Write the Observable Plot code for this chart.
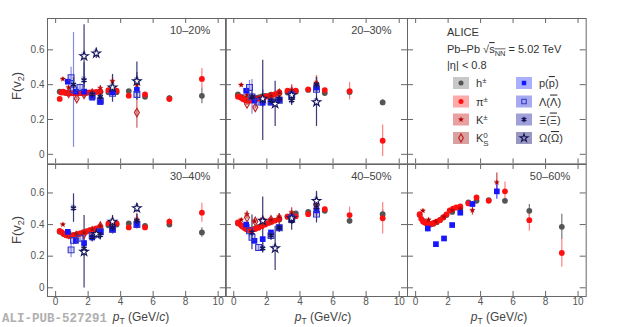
<!DOCTYPE html>
<html><head><meta charset="utf-8">
<script src="https://cdn.jsdelivr.net/npm/d3@7"></script>
<script src="https://cdn.jsdelivr.net/npm/@observablehq/plot@0.6"></script>
<style>
body{margin:0;background:#fff;font-family:"Liberation Sans",Arial,sans-serif;}
#chart{position:relative;width:620px;height:327px;overflow:hidden;background:#fff;}
#chart svg{position:absolute;overflow:visible;}
</style></head><body><div id="chart"></div>
<script>
// ---------------- data ----------------
const centralities = ["10–20%","20–30%","30–40%","40–50%","50–60%"];
const xTicks = [0,2,4,6,8,10];
const xTickLabels = ["0","2","4","6","8","10"];
const yTicks = [0,0.2,0.4,0.6];
const yTickLabels = ["0","0.2","0.4","0.6"];

// h± (charged hadrons)
const pt_h = [0.25,0.5,0.7,0.9,1.1,1.3,1.5,1.7,1.9,2.25,2.75,3.25,3.75,4.5,5.5,7,9];
const v_h = [
 [0.360,0.355,0.352,0.351,0.351,0.352,0.353,0.354,0.355,0.355,0.356,0.356,0.357,0.363,0.330,0.322,0.336],
 [0.344,0.330,0.320,0.316,0.318,0.322,0.327,0.332,0.336,0.342,0.350,0.355,0.360,0.370,0.352,0.358,0.298],
 [0.354,0.340,0.333,0.331,0.333,0.338,0.344,0.350,0.356,0.365,0.378,0.395,0.400,0.407,0.392,0.400,0.350],
 [0.407,0.390,0.376,0.368,0.369,0.376,0.386,0.396,0.405,0.418,0.432,0.450,0.470,0.480,0.487,0.424,0.466],
 [0.460,0.422,0.406,0.401,0.405,0.415,0.430,0.445,0.460,0.480,0.502,0.540,0.550,0.555,0.550,0.487,0.386]];
const e_h = [
 [0.003,0.002,0.002,0.002,0.002,0.002,0.002,0.002,0.002,0.002,0.003,0.003,0.004,0.006,0.010,0.015,0.045],
 [0.003,0.002,0.002,0.002,0.002,0.002,0.002,0.002,0.002,0.002,0.003,0.003,0.004,0.006,0.010,0.020,0.015],
 [0.003,0.002,0.002,0.002,0.002,0.002,0.002,0.002,0.002,0.002,0.003,0.003,0.004,0.006,0.010,0.015,0.030],
 [0.003,0.002,0.002,0.002,0.002,0.002,0.002,0.002,0.002,0.002,0.003,0.003,0.004,0.006,0.010,0.020,0.030],
 [0.003,0.002,0.002,0.002,0.002,0.002,0.002,0.002,0.002,0.002,0.003,0.003,0.004,0.008,0.012,0.040,0.080]];

// π±
const pt_pi = [0.25,0.35,0.45,0.55,0.65,0.75,0.85,0.95,1.1,1.3,1.5,1.7,1.9,2.1,2.3,2.5,2.75,3.25,3.75,4.5,5.5,7,9];
const v_pi = [
 [0.318,0.355,0.360,0.356,0.352,0.350,0.350,0.350,0.350,0.350,0.351,0.352,0.353,0.355,0.356,0.358,0.362,0.368,0.365,0.337,0.344,0.317,0.433],
 [0.331,0.330,0.325,0.318,0.313,0.310,0.308,0.308,0.310,0.315,0.320,0.325,0.330,0.335,0.340,0.345,0.357,0.365,0.365,0.373,0.369,0.363,0.078],
 [0.360,0.354,0.345,0.338,0.333,0.330,0.330,0.330,0.333,0.338,0.343,0.350,0.357,0.364,0.370,0.376,0.386,0.407,0.407,0.382,0.382,0.418,0.475],
 [0.413,0.405,0.395,0.386,0.378,0.372,0.368,0.365,0.366,0.372,0.380,0.390,0.400,0.410,0.418,0.425,0.435,0.450,0.452,0.466,0.498,0.460,0.440],
 [0.466,0.436,0.420,0.413,0.410,0.406,0.403,0.402,0.410,0.418,0.428,0.445,0.465,0.490,0.500,0.508,0.515,0.534,0.572,0.550,0.610,0.428,0.220]];
const e_pi = [
 [0.004,0.003,0.003,0.003,0.003,0.003,0.003,0.003,0.003,0.003,0.003,0.003,0.003,0.003,0.003,0.003,0.003,0.004,0.005,0.008,0.010,0.020,0.060],
 [0.004,0.003,0.003,0.003,0.003,0.003,0.003,0.003,0.003,0.003,0.003,0.003,0.003,0.003,0.003,0.003,0.003,0.004,0.005,0.008,0.010,0.050,0.090],
 [0.004,0.003,0.003,0.003,0.003,0.003,0.003,0.003,0.003,0.003,0.003,0.003,0.003,0.003,0.003,0.003,0.003,0.004,0.005,0.008,0.012,0.020,0.060],
 [0.004,0.003,0.003,0.003,0.003,0.003,0.003,0.003,0.003,0.003,0.003,0.003,0.003,0.003,0.003,0.003,0.003,0.004,0.005,0.008,0.015,0.050,0.100],
 [0.004,0.003,0.003,0.003,0.003,0.003,0.003,0.003,0.003,0.003,0.003,0.003,0.003,0.003,0.003,0.003,0.004,0.006,0.010,0.012,0.060,0.070,0.090]];

// K±
const pt_k = [0.45,0.8,1.25,1.75,2.25,2.75,3.5,5.0];
const v_k = [
 [0.432,0.384,0.360,0.358,0.355,0.380,0.420,0.400],
 [0.398,0.340,0.330,0.330,0.340,0.355,0.370,0.410],
 [0.400,0.350,0.340,0.350,0.370,0.390,0.420,0.430],
 [0.430,0.466,0.420,0.435,0.430,0.450,0.477,0.530],
 [0.487,0.430,0.420,0.450,0.490,0.500,0.490,0.667]];
const e_k = [
 [0.008,0.010,0.010,0.010,0.012,0.015,0.030,0.040],
 [0.008,0.010,0.010,0.010,0.012,0.015,0.030,0.040],
 [0.008,0.010,0.010,0.010,0.012,0.015,0.030,0.040],
 [0.008,0.020,0.010,0.020,0.015,0.020,0.030,0.050],
 [0.010,0.010,0.010,0.010,0.012,0.020,0.030,0.060]];

// K0S
const pt_k0 = [0.8,1.3,1.75,2.25,2.75,3.5,5.0];
const v_k0 = [
 [0.350,0.320,0.345,0.350,0.360,0.370,0.240],
 [0.290,0.270,0.310,0.330,0.350,0.360,0.400],
 [0.340,0.330,0.340,0.360,0.390,0.400,0.420],
 [0.445,0.420,0.420,0.430,0.440,0.460,0.500],
 null];
const e_k0 = [
 [0.010,0.010,0.010,0.012,0.015,0.030,0.090],
 [0.010,0.010,0.010,0.012,0.015,0.030,0.050],
 [0.010,0.010,0.010,0.012,0.015,0.030,0.040],
 [0.010,0.010,0.010,0.012,0.015,0.030,0.040],
 null];

// p(pbar)
const pt_p = [0.75,1.25,1.75,2.25,2.75,3.5,5.0];
const v_p = [
 [0.417,0.360,0.360,0.325,0.300,0.356,0.370],
 [0.365,0.308,0.296,0.298,0.312,0.344,0.384],
 [0.354,0.297,0.283,0.318,0.354,0.367,0.403],
 [0.400,0.297,0.308,0.350,0.382,0.445,0.490],
 [0.375,0.276,0.312,0.397,0.475,0.530,0.610]];
const e_p = [
 [0.012,0.010,0.010,0.010,0.012,0.015,0.030],
 [0.012,0.010,0.010,0.010,0.012,0.015,0.030],
 [0.012,0.010,0.010,0.010,0.012,0.015,0.020],
 [0.012,0.010,0.010,0.010,0.012,0.015,0.030],
 [0.020,0.010,0.010,0.010,0.012,0.015,0.050]];

// Λ
const pt_la = [0.95,1.1,1.5,2.25,2.75,3.5,5.0];
const v_la = [
 [0.440,0.370,0.384,0.335,0.306,0.350,0.344],
 [0.384,0.330,0.300,0.300,0.310,0.340,0.373],
 [0.240,0.300,0.314,0.330,0.354,0.370,0.400],
 [0.360,0.320,0.255,0.330,0.380,0.440,0.466],
 null];
const e_la = [
 [0.060,0.330,0.020,0.020,0.020,0.020,0.030],
 [0.040,0.100,0.020,0.020,0.020,0.020,0.030],
 [0.050,0.030,0.020,0.020,0.020,0.020,0.030],
 [0.040,0.040,0.020,0.020,0.020,0.020,0.030],
 null];

// Ξ
const pt_xi = [1.1,1.75,2.25,2.75,3.5,5.0];
const v_xi = [
 [0.400,0.426,0.344,0.330,0.379,0.420],
 [0.330,0.310,0.310,0.320,0.310,0.400],
 [0.504,0.250,0.320,0.333,0.380,0.424],
 [0.350,0.250,0.330,0.380,0.424,0.510],
 null];
const e_xi = [
 [0.040,0.100,0.030,0.030,0.080,0.110],
 [0.030,0.230,0.030,0.030,0.030,0.040],
 [0.090,0.050,0.030,0.030,0.040,0.040],
 [0.110,0.030,0.030,0.030,0.060,0.100],
 null];

// Ω
const pt_om = [1.75,2.5,3.5,5.0];
const v_om = [
 [0.564,0.580,0.384,0.420],
 [0.320,0.290,0.340,0.300],
 [0.228,0.340,0.418,0.504],
 [0.424,0.250,0.440,0.550],
 null];
const e_om = [
 [0.180,0.030,0.050,0.050],
 [0.050,0.130,0.030,0.140],
 [0.230,0.030,0.040,0.030],
 [0.150,0.140,0.040,0.050],
 null];

// systematic half-heights per species (h, π, K, K0S, p, Λ, Ξ, Ω)
const sysUnc = [0.006,0.006,0.010,0.010,0.012,0.015,0.020,0.020];

// ---------------- styles ----------------
const species = [
 {key:"h",  pt:pt_h,  v:v_h,  e:e_h,  symbol:"circle",  r:2.9, fill:"#555555", stroke:"none",    sw:1,   bar:"#777777", box:"#c8c8c8"},
 {key:"pi", pt:pt_pi, v:v_pi, e:e_pi, symbol:"circle",  r:2.9, fill:"#ff1010", stroke:"none",    sw:1,   bar:"#ff8080", box:"#ffaaaa"},
 {key:"k",  pt:pt_k,  v:v_k,  e:e_k,  symbol:"star",    r:1.9, fill:"#b00000", stroke:"none",    sw:1,   bar:"#d04040", box:"#e8a0a0"},
 {key:"k0", pt:pt_k0, v:v_k0, e:e_k0, symbol:"diamond", r:2.6, fill:"none",    stroke:"#c02020", sw:1.1, bar:"#d06060", box:"#d8a0a0"},
 {key:"p",  pt:pt_p,  v:v_p,  e:e_p,  symbol:"square",  r:3.2, fill:"#1515ff", stroke:"none",    sw:1,   bar:"#4444ff", box:"#aab0ff"},
 {key:"la", pt:pt_la, v:v_la, e:e_la, symbol:"square",  r:3.3, fill:"none",    stroke:"#3535c8", sw:1.1, bar:"#8888dd", box:"#a8aaf0"},
 {key:"xi", pt:pt_xi, v:v_xi, e:e_xi, symbol:"asterisk",r:2.8, fill:"none",    stroke:"#14145a", sw:1.4, bar:"#3a3a78", box:"#a0a0d8"},
 {key:"om", pt:pt_om, v:v_om, e:e_om, symbol:"star",    r:2.7, fill:"#ffffff", stroke:"#14145a", sw:1.1, bar:"#3a3a78", box:"#9898c0"}
];

const rows = [];
species.forEach((s, si) => {
  s.v.forEach((vals, c) => {
    if (!vals) return;
    vals.forEach((v, i) => {
      if (v == null) return;
      rows.push({c, s: s.key, pt: s.pt[i], v, err: s.e[c][i], sys: sysUnc[si]});
    });
  });
});

// ---------------- layout ----------------
const axisColor = "#666";
const rowTop = [18.3, 163.7], rowH = [145.4, 132];
const colLeft = [46.5, 225.3, 407.3], colW = [178.8, 182, 178.7];
const panels = [
  {c:0, r:0, k:0}, {c:1, r:0, k:1}, {c:null, r:0, k:2},
  {c:2, r:1, k:0}, {c:3, r:1, k:1}, {c:4, r:1, k:2}];
const chart = document.getElementById("chart");

panels.forEach(P => {
  const W = colW[P.k], H = rowH[P.r];
  const marks = [
    Plot.frame({stroke: axisColor}),
    Plot.ruleX(xTicks, {x: d => d, insetTop: H - 5, stroke: axisColor}),
    Plot.ruleX(xTicks, {x: d => d, insetBottom: H - 5, stroke: axisColor}),
    Plot.ruleY(yTicks, {y: d => d, insetRight: W - 6, stroke: axisColor}),
    Plot.ruleY(yTicks, {y: d => d, insetLeft: W - 6, stroke: axisColor})
  ];
  if (P.k === 0) marks.push(Plot.text(yTicks, {y: d => d, text: (d, i) => yTickLabels[i], frameAnchor: "left", textAnchor: "end", dx: -3, fontSize: 10, fill: "#555"}));
  if (P.r === 1) marks.push(Plot.text(xTicks, {x: d => d, text: (d, i) => xTickLabels[i], frameAnchor: "bottom", lineAnchor: "top", dy: 1.5, fontSize: 10, fill: "#555"}));
  if (P.c != null) {
    const data = rows.filter(d => d.c === P.c);
    species.forEach(s => {
      const sd = data.filter(d => d.s === s.key);
      marks.push(Plot.rect(sd, {x1: d => d.pt - 0.14, x2: d => d.pt + 0.14, y1: d => d.v - d.sys, y2: d => d.v + d.sys, fill: s.box, fillOpacity: 0.65}));
    });
    species.forEach(s => {
      const sd = data.filter(d => d.s === s.key);
      marks.push(Plot.ruleX(sd, {x: "pt", y1: d => d.v - d.err, y2: d => d.v + d.err, stroke: s.bar, strokeWidth: 1.2}));
    });
    species.forEach(s => {
      const sd = data.filter(d => d.s === s.key);
      marks.push(Plot.dot(sd, {x: "pt", y: "v", symbol: s.symbol, r: s.r, fill: s.fill, stroke: s.stroke, strokeWidth: s.sw}));
    });
    marks.push(Plot.text([centralities[P.c]], {text: d => d, frameAnchor: "top-right", textAnchor: "end", lineAnchor: "top", dx: -16, dy: 8, fontSize: 11, fill: "#444"}));
  }
  const svg = Plot.plot({
    width: W, height: H,
    marginLeft: 0, marginRight: 0, marginTop: 0, marginBottom: 0,
    x: {domain: [-0.5, 10.5], axis: null},
    y: {domain: [-0.055, 0.78], axis: null},
    style: {background: "transparent", overflow: "visible", maxWidth: "none", fontFamily: "'Liberation Sans', Arial, sans-serif"},
    marks
  });
  svg.style.left = colLeft[P.k] + "px";
  svg.style.top = rowTop[P.r] + "px";
  chart.appendChild(svg);
});

// ---------------- overlay text & legend ----------------
const ov = d3.select(chart).append("svg").attr("width", 620).attr("height", 327)
  .style("left", "0px").style("top", "0px")
  .attr("font-family", "'Liberation Sans', Arial, sans-serif");

ov.append("text").attr("x", 2).attr("y", 322).attr("font-family", "'Liberation Mono', 'DejaVu Sans Mono', monospace")
  .attr("font-weight", "bold").attr("font-size", 12.5).attr("fill", "#b0b0b0").text("ALI-PUB-527291");

function yTitle(cy) {
  const t = ov.append("text").attr("transform", `translate(21,${cy}) rotate(-90)`).attr("text-anchor", "middle")
    .attr("font-size", 13).attr("fill", "#444");
  t.append("tspan").text("F(v");
  t.append("tspan").attr("font-size", 9).attr("dy", 3).text("2");
  t.append("tspan").attr("dy", -3).text(")");
}
yTitle(86); yTitle(230);

function xTitle(cx) {
  const t = ov.append("text").attr("x", cx).attr("y", 320.5).attr("text-anchor", "middle").attr("font-size", 12).attr("fill", "#444");
  t.append("tspan").attr("font-style", "italic").text("p");
  t.append("tspan").attr("font-size", 8.5).attr("dy", 3).text("T");
  t.append("tspan").attr("dy", -3).text(" (GeV/");
  t.append("tspan").attr("font-style", "italic").text("c");
  t.append("tspan").text(")");
}
xTitle(141); xTitle(323); xTitle(499);

const lg = ov.append("g").attr("fill", "#333").attr("font-size", 11);
lg.append("text").attr("x", 447).attr("y", 36).text("ALICE");
const t2 = lg.append("text").attr("x", 447).attr("y", 53);
t2.append("tspan").text("Pb–Pb √");
t2.append("tspan").style("text-decoration", "overline").text("s");
t2.append("tspan").attr("font-size", 7.5).attr("dy", 2.5).style("text-decoration", "overline").text("NN");
t2.append("tspan").attr("dy", -2.5).text(" = 5.02 TeV");
lg.append("text").attr("x", 447).attr("y", 69).text("|η| < 0.8");

const legendRowsY = [83, 101.5, 119.5, 138];
const legendColX = [453, 516];
const symMap = {circle: d3.symbolCircle, square: d3.symbolSquare, star: d3.symbolStar, diamond: d3.symbolDiamond, asterisk: d3.symbolAsterisk};
const labelBuilders = [
  t => { t.append("tspan").text("h"); t.append("tspan").attr("font-size", 8).attr("dy", -4).text("±"); },
  t => { t.append("tspan").text("π"); t.append("tspan").attr("font-size", 8).attr("dy", -4).text("±"); },
  t => { t.append("tspan").text("K"); t.append("tspan").attr("font-size", 8).attr("dy", -4).text("±"); },
  t => { t.append("tspan").text("K"); t.append("tspan").attr("font-size", 8).attr("dy", -4.5).text("0");
         t.append("tspan").attr("font-size", 8).attr("dx", -4.5).attr("dy", 8).text("S"); },
  t => { t.append("tspan").text("p("); t.append("tspan").style("text-decoration", "overline").text("p"); t.append("tspan").text(")"); },
  t => { t.append("tspan").text("Λ("); t.append("tspan").style("text-decoration", "overline").text("Λ"); t.append("tspan").text(")"); },
  t => { t.append("tspan").text("Ξ("); t.append("tspan").style("text-decoration", "overline").text("Ξ"); t.append("tspan").text(")"); },
  t => { t.append("tspan").text("Ω("); t.append("tspan").style("text-decoration", "overline").text("Ω"); t.append("tspan").text(")"); }
];
species.forEach((s, i) => {
  const col = i < 4 ? 0 : 1, row = i % 4;
  const x0 = legendColX[col], y0 = legendRowsY[row];
  lg.append("rect").attr("x", x0).attr("y", y0 - 6).attr("width", 16).attr("height", 12).attr("fill", s.box);
  const rr = Math.min(s.r, 2.5);
  lg.append("path").attr("transform", `translate(${x0 + 8},${y0})`)
    .attr("d", d3.symbol(symMap[s.symbol], rr * rr * Math.PI)())
    .attr("fill", s.fill === "#ffffff" ? "none" : s.fill).attr("stroke", s.stroke === "none" ? null : s.stroke).attr("stroke-width", s.sw);
  const t = lg.append("text").attr("x", x0 + 23).attr("y", y0 + 4).attr("fill", "#333");
  labelBuilders[i](t);
});
</script></body></html>
